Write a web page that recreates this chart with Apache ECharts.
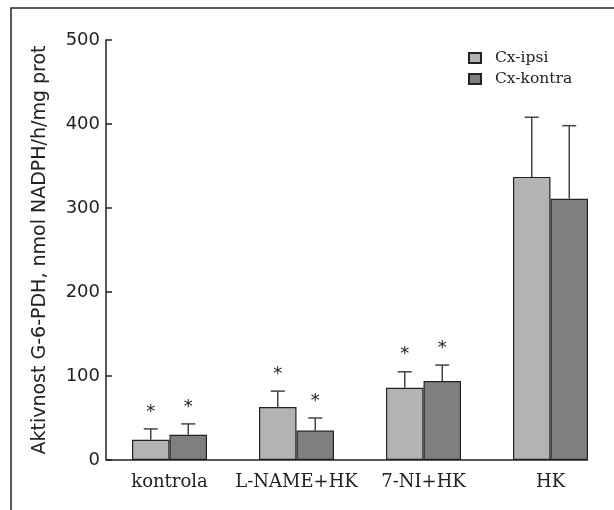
<!DOCTYPE html>
<html><head><meta charset="utf-8">
<script src="https://cdn.jsdelivr.net/npm/echarts@6/dist/echarts.min.js"></script>
<style>html,body{margin:0;padding:0;background:#fff}#c{width:614px;height:510px}</style>
</head><body><div id="c"></div>
<script>
var categories = ['kontrola', 'L-NAME+HK', '7-NI+HK', 'HK'];
var seriesNames = ['Cx-ipsi', 'Cx-kontra'];
var ipsi = [24, 63, 86, 337];
var ipsiErr = [13, 19, 19, 71];
var kontra = [30, 35, 94, 311];
var kontraErr = [13, 15, 19, 87];
var ipsiSig = [true, true, true, false];
var kontraSig = [true, true, true, false];
var yMin = 0, yMax = 500, yStep = 100;

var BW = 37.5;
var chart = echarts.init(document.getElementById('c'), null, {renderer: 'canvas'});

function errSeries(vals, errs, sig, offset) {
  return {
    type: 'custom', z: 5, silent: true,
    data: vals.map(function (v, i) { return [i, v, errs[i], sig[i] ? 1 : 0]; }),
    renderItem: function (params, api) {
      var base = api.coord([api.value(0), api.value(1)]);
      var top = api.coord([api.value(0), api.value(1) + api.value(2)]);
      var x = base[0] + offset;
      var children = [
        {type: 'line', shape: {x1: x, y1: base[1], x2: x, y2: top[1]}, style: {stroke: '#444', lineWidth: 1.5}},
        {type: 'line', shape: {x1: x - 7, y1: top[1], x2: x + 7, y2: top[1]}, style: {stroke: '#444', lineWidth: 1.5}}
      ];
      if (api.value(3)) {
        children.push({type: 'text', style: {text: '*', x: x, y: top[1] - 17, textAlign: 'center', textVerticalAlign: 'middle', font: '18px "DejaVu Sans"', fill: '#222'}});
      }
      return {type: 'group', children: children};
    }
  };
}

var option = {
  animation: false,
  backgroundColor: '#fff',
  grid: {left: 106, right: 0, top: 40, bottom: 50},
  legend: {
    orient: 'vertical', left: 463, top: 45, itemWidth: 12, itemHeight: 10, itemGap: 5,
    icon: 'rect',
    textStyle: {fontFamily: 'DejaVu Serif', fontSize: 15.5, color: '#222', padding: [0, 0, 0, 9]},
    data: seriesNames
  },
  xAxis: {
    type: 'category', data: categories,
    axisLine: {show: false}, axisTick: {show: false},
    axisLabel: {interval: 0, fontFamily: 'DejaVu Serif', fontSize: 18, color: '#222', margin: 13}
  },
  yAxis: {
    type: 'value', min: yMin, max: yMax, interval: yStep,
    name: 'Aktivnost G-6-PDH, nmol NADPH/h/mg prot',
    nameLocation: 'middle', nameGap: 56,
    nameTextStyle: {fontFamily: 'DejaVu Sans', fontSize: 19, color: '#222'},
    axisLine: {show: true, lineStyle: {color: '#222', width: 1.5}},
    axisTick: {show: true, inside: true, length: 6, lineStyle: {color: '#222', width: 1.5}},
    axisLabel: {fontFamily: 'DejaVu Sans', fontSize: 18, color: '#222', margin: 6},
    splitLine: {show: false}
  },
  series: [
    {name: seriesNames[0], type: 'bar', data: ipsi, barWidth: BW, barGap: '0%',
      itemStyle: {color: '#b3b3b3', borderColor: '#222', borderWidth: 1.2}},
    {name: seriesNames[1], type: 'bar', data: kontra, barWidth: BW, barGap: '0%',
      itemStyle: {color: '#7f7f7f', borderColor: '#222', borderWidth: 1.2}},
    errSeries(ipsi, ipsiErr, ipsiSig, -BW / 2),
    errSeries(kontra, kontraErr, kontraSig, BW / 2)
  ]
};
chart.setOption(option);

var last = chart.convertToPixel({xAxisIndex: 0}, categories[categories.length - 1]);
var y0 = chart.convertToPixel({yAxisIndex: 0}, 0);
chart.setOption({
  graphic: [
    {type: 'line', shape: {x1: 106, y1: y0, x2: last + BW, y2: y0}, style: {stroke: '#222', lineWidth: 1.5}, z: 10},
    {type: 'polyline', shape: {points: [[11, 510], [11, 8], [614, 8]]}, style: {stroke: '#222', lineWidth: 1.5, fill: null}, z: 10}
  ]
});
</script>
</body></html>
